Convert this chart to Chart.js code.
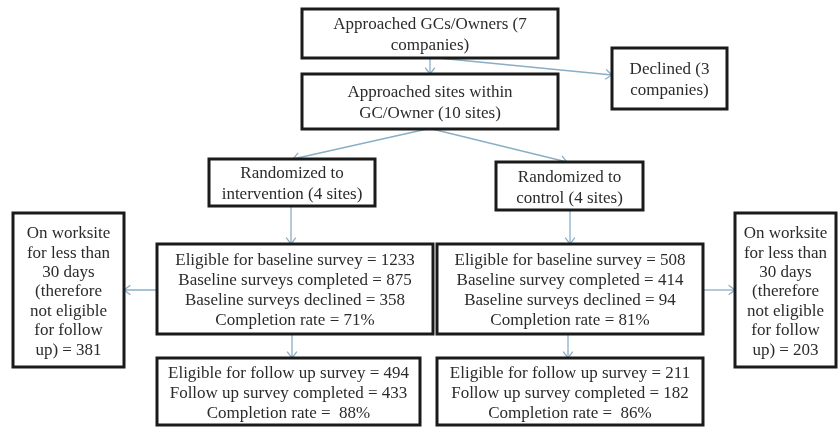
<!DOCTYPE html>
<html>
<head>
<meta charset="utf-8">
<script src="https://cdn.jsdelivr.net/npm/chart.js@4"></script>
<style>
  html, body { margin: 0; padding: 0; background: #fff; }
  #wrap { width: 840px; height: 428px; }
</style>
</head>
<body>
<div id="wrap"><canvas id="flowChart" width="840" height="428"></canvas></div>
<script>
// Counts
const companies = [7, 3];          // approached, declined
const sitesApproached = [10];
const arms = ['intervention', 'control'];
const armSites = [4, 4];
const baselineEligible = [1233, 508];
const baselineCompleted = [875, 414];
const baselineDeclined = [358, 94];
const baselineRate = [71, 81];
const notEligible = [381, 203];
const followEligible = [494, 211];
const followCompleted = [433, 182];
const followRate = [88, 86];

// Box texts built from the counts
const boxText = {
    top: ['Approached GCs/Owners (' + companies[0], 'companies)'],
    declined: ['Declined (' + companies[1], 'companies)'],
    sites: ['Approached sites within', 'GC/Owner (' + sitesApproached[0] + ' sites)'],
    randI: ['Randomized to', arms[0] + ' (' + armSites[0] + ' sites)'],
    randC: ['Randomized to', arms[1] + ' (' + armSites[1] + ' sites)'],
    lostI: ['On worksite', 'for less than', '30 days', '(therefore', 'not eligible', 'for follow', 'up) = ' + notEligible[0]],
    lostC: ['On worksite', 'for less than', '30 days', '(therefore', 'not eligible', 'for follow', 'up) = ' + notEligible[1]],
    baseI: [
        'Eligible for baseline survey = ' + baselineEligible[0],
        'Baseline surveys completed = ' + baselineCompleted[0],
        'Baseline surveys declined = ' + baselineDeclined[0],
        'Completion rate = ' + baselineRate[0] + '%'
    ],
    baseC: [
        'Eligible for baseline survey = ' + baselineEligible[1],
        'Baseline survey completed = ' + baselineCompleted[1],
        'Baseline surveys declined = ' + baselineDeclined[1],
        'Completion rate = ' + baselineRate[1] + '%'
    ],
    followI: [
        'Eligible for follow up survey = ' + followEligible[0],
        'Follow up survey completed = ' + followCompleted[0],
        'Completion rate =  ' + followRate[0] + '%'
    ],
    followC: [
        'Eligible for follow up survey = ' + followEligible[1],
        'Follow up survey completed = ' + followCompleted[1],
        'Completion rate =  ' + followRate[1] + '%'
    ]
};

// Layout in scale units: [x1, y1, x2, y2]
const boxes = {
    top: [302, 9, 558, 58],
    sites: [302, 74, 558, 129],
    declined: [612, 48, 727, 109],
    randI: [209, 159, 375, 206],
    randC: [496, 162, 643, 210],
    lostI: [13, 213, 124, 367],
    lostC: [735, 213, 836, 367],
    baseI: [157, 244, 433, 334],
    baseC: [437, 244, 703, 334],
    followI: [157, 358, 420, 425],
    followC: [437, 358, 703, 425]
};

const arrows = [
    [430, 58, 430, 74],
    [438, 58, 612, 75],
    [427, 129, 293, 159],
    [432, 129, 567, 162],
    [291, 206, 291, 244],
    [570, 210, 570, 244],
    [157, 290, 124, 290],
    [703, 290, 735, 290],
    [292, 334, 292, 358],
    [568, 334, 568, 358]
];

const flowPlugin = {
    id: 'flow',
    afterDatasetsDraw(chart) {
        const ctx = chart.ctx;
        const sx = chart.scales.x, sy = chart.scales.y;
        const px = v => sx.getPixelForValue(v);
        const py = v => sy.getPixelForValue(v);

        ctx.save();
        // arrows
        ctx.strokeStyle = '#8aaec6';
        ctx.lineWidth = 1.3;
        arrows.forEach(a => {
            const x1 = px(a[0]), y1 = py(a[1]), x2 = px(a[2]), y2 = py(a[3]);
            ctx.beginPath();
            ctx.moveTo(x1, y1);
            ctx.lineTo(x2, y2);
            ctx.stroke();
            const ang = Math.atan2(y2 - y1, x2 - x1);
            const len = 8, spread = 0.65;
            ctx.beginPath();
            ctx.moveTo(x2 - len * Math.cos(ang - spread), y2 - len * Math.sin(ang - spread));
            ctx.lineTo(x2, y2);
            ctx.lineTo(x2 - len * Math.cos(ang + spread), y2 - len * Math.sin(ang + spread));
            ctx.stroke();
        });

        // boxes and text
        ctx.font = '17px "Liberation Serif", "Times New Roman", serif';
        ctx.textAlign = 'center';
        ctx.textBaseline = 'middle';
        Object.keys(boxes).forEach(k => {
            const b = boxes[k];
            const x1 = px(b[0]), y1 = py(b[1]), x2 = px(b[2]), y2 = py(b[3]);
            ctx.fillStyle = '#fff';
            ctx.fillRect(x1, y1, x2 - x1, y2 - y1);
            ctx.strokeStyle = '#1a1a1a';
            ctx.lineWidth = 3;
            ctx.strokeRect(x1, y1, x2 - x1, y2 - y1);

            const lines = boxText[k];
            const lh = lines.length > 4 ? 19.4 : (lines.length > 2 ? 20 : 21);
            const cx = (x1 + x2) / 2;
            const cy = (y1 + y2) / 2 + 2;
            ctx.fillStyle = '#2b2b2b';
            lines.forEach((t, i) => {
                ctx.fillText(t, cx, cy + (i - (lines.length - 1) / 2) * lh);
            });
        });
        ctx.restore();
    }
};

new Chart(document.getElementById('flowChart'), {
    type: 'scatter',
    data: {
        datasets: [{
            data: [],
            pointRadius: 0
        }]
    },
    options: {
        responsive: false,
        animation: false,
        layout: { padding: 0 },
        plugins: {
            legend: { display: false },
            tooltip: { enabled: false }
        },
        scales: {
            x: { type: 'linear', min: 0, max: 840, display: false },
            y: { type: 'linear', min: 0, max: 428, reverse: true, display: false }
        }
    },
    plugins: [flowPlugin]
});
</script>
</body>
</html>
